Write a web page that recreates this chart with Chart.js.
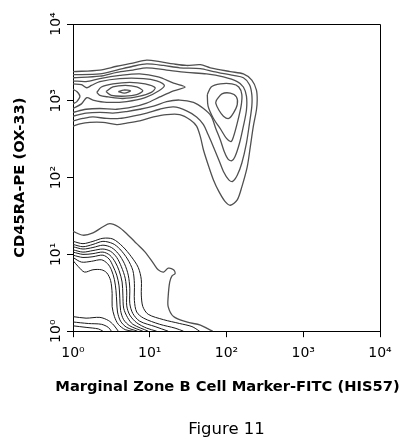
<!DOCTYPE html>
<html>
<head>
<meta charset="utf-8">
<title>Figure 11</title>
<script src="https://cdn.jsdelivr.net/npm/chart.js@4.4.1/dist/chart.umd.min.js"></script>
<style>
  html, body { margin: 0; padding: 0; background: #fff; }
</style>
</head>
<body>
<canvas id="chart" width="405" height="445"></canvas>
<script>
// ===============================
// Data (log10 decades on both axes)
// ===============================

const tickLabels = ["10⁰", "10¹", "10²", "10³", "10⁴"];
const xTitle = "Marginal Zone B Cell Marker-FITC (HIS57)";
const yTitle = "CD45RA-PE (OX-33)";

// upper population: contours running from the left edge round both peaks
const upperA = [[0,3.38],[0.35,3.40],[0.57,3.45],[0.78,3.49],[0.96,3.53],[1.13,3.51],[1.31,3.48],[1.48,3.46],[1.66,3.47],[1.79,3.43],[2.05,3.38],[2.22,3.35],[2.33,3.27],[2.39,3.14],[2.40,3.01],[2.39,2.88],[2.35,2.67],[2.31,2.40],[2.27,2.14],[2.20,1.88],[2.14,1.71],[2.05,1.64],[1.98,1.69],[1.90,1.82],[1.83,1.97],[1.77,2.14],[1.70,2.36],[1.66,2.53],[1.61,2.67],[1.53,2.75],[1.39,2.82],[1.22,2.82],[1.05,2.79],[0.87,2.74],[0.70,2.71],[0.57,2.69],[0.39,2.72],[0.22,2.72],[0.09,2.70],[0,2.67]];
const upperB = [[0,3.34],[0.35,3.35],[0.57,3.40],[0.78,3.45],[0.96,3.48],[1.18,3.46],[1.39,3.43],[1.66,3.42],[1.83,3.38],[2.09,3.33],[2.22,3.30],[2.30,3.21],[2.33,3.08],[2.33,2.93],[2.30,2.71],[2.26,2.45],[2.20,2.19],[2.14,2.03],[2.08,1.95],[2.03,1.97],[1.96,2.08],[1.90,2.23],[1.83,2.40],[1.76,2.56],[1.70,2.69],[1.61,2.79],[1.48,2.87],[1.31,2.92],[1.13,2.89],[0.96,2.84],[0.78,2.80],[0.61,2.77],[0.44,2.77],[0.26,2.79],[0.13,2.77],[0,2.74]];
const upperC = [[0,3.30],[0.35,3.32],[0.57,3.37],[0.78,3.40],[0.96,3.43],[1.22,3.40],[1.48,3.37],[1.74,3.35],[1.96,3.31],[2.14,3.25],[2.22,3.18],[2.26,3.06],[2.26,2.88],[2.22,2.67],[2.17,2.45],[2.11,2.27],[2.07,2.22],[2.02,2.24],[1.97,2.34],[1.92,2.49],[1.86,2.64],[1.80,2.80],[1.70,2.90],[1.57,2.98],[1.39,3.01],[1.22,2.99],[1.05,2.93],[0.87,2.89],[0.70,2.86],[0.52,2.84],[0.35,2.85],[0.17,2.84],[0,2.80]];
const upperD = [[0,3.26],[0.17,3.25],[0.35,3.29],[0.61,3.33],[0.87,3.35],[1.11,3.31],[1.31,3.23],[1.46,3.18],[1.31,3.13],[1.13,3.05],[0.96,2.97],[0.78,2.92],[0.57,2.89],[0.35,2.90],[0.17,2.89],[0,2.85]];
const upperE = [[0,3.22],[0.11,3.21],[0.18,3.17],[0.24,3.20],[0.35,3.25],[0.61,3.29],[0.92,3.29],[1.09,3.26],[1.19,3.20],[1.12,3.13],[0.94,3.04],[0.70,2.99],[0.44,2.98],[0.26,3.01],[0.18,3.04],[0.11,2.96],[0,2.90]];
const edgeBump = [[0,3.15],[0.05,3.12],[0.09,3.06],[0.05,2.99],[0,2.96]];

// left peak (about 10^0.7, 10^3.1)
const peakF = [[0.31,3.11],[0.37,3.18],[0.52,3.22],[0.74,3.24],[0.94,3.22],[1.07,3.17],[1.02,3.11],[0.87,3.06],[0.65,3.03],[0.46,3.05],[0.35,3.07],[0.31,3.11]];
const peakG = [[0.43,3.12],[0.52,3.18],[0.68,3.20],[0.83,3.18],[0.91,3.13],[0.83,3.08],[0.68,3.06],[0.50,3.07],[0.43,3.12]];
const peakH = [[0.59,3.12],[0.66,3.14],[0.75,3.13],[0.67,3.10],[0.59,3.12]];

// right lobe (about 10^2, 10^3)
const lobeD = [[1.75,3.08],[1.80,3.18],[1.92,3.22],[2.07,3.22],[2.16,3.18],[2.20,3.08],[2.19,2.93],[2.14,2.71],[2.09,2.53],[2.06,2.47],[2.00,2.51],[1.93,2.62],[1.83,2.77],[1.76,2.93],[1.75,3.08]];
const lobeE = [[1.87,3.01],[1.94,3.09],[2.05,3.10],[2.13,3.05],[2.14,2.95],[2.09,2.84],[2.03,2.77],[1.96,2.80],[1.90,2.88],[1.86,2.97],[1.87,3.01]];

// lower population (negative corner)
const lowT1 = [[0,1.30],[0.13,1.25],[0.26,1.28],[0.39,1.36],[0.48,1.40],[0.59,1.36],[0.70,1.27],[0.83,1.14],[0.94,1.03],[1.05,0.88],[1.11,0.80],[1.18,0.77],[1.24,0.82],[1.31,0.80],[1.33,0.75],[1.29,0.72],[1.26,0.64],[1.24,0.45],[1.24,0.32],[1.31,0.19],[1.48,0.12],[1.66,0.08],[1.76,0.03],[1.82,0]];
const lowT2 = [[0,1.17],[0.13,1.14],[0.26,1.17],[0.39,1.21],[0.52,1.20],[0.65,1.10],[0.76,0.97],[0.85,0.83],[0.89,0.67],[0.89,0.47],[0.91,0.32],[0.98,0.22],[1.18,0.15],[1.39,0.10],[1.55,0.06],[1.65,0]];
const lowT3 = [[0,1.13],[0.13,1.10],[0.26,1.13],[0.39,1.17],[0.52,1.14],[0.61,1.07],[0.71,0.94],[0.78,0.79],[0.80,0.62],[0.80,0.40],[0.83,0.25],[0.92,0.17],[1.13,0.09],[1.33,0.04],[1.44,0]];
const lowT4 = [[0,1.10],[0.13,1.07],[0.26,1.09],[0.39,1.12],[0.50,1.09],[0.59,1.01],[0.67,0.88],[0.72,0.73],[0.74,0.56],[0.74,0.36],[0.78,0.23],[0.87,0.13],[1.07,0.06],[1.24,0]];
const lowT5 = [[0,1.06],[0.13,1.03],[0.26,1.05],[0.39,1.07],[0.49,1.04],[0.57,0.96],[0.63,0.84],[0.68,0.69],[0.70,0.51],[0.70,0.33],[0.74,0.21],[0.83,0.11],[0.96,0.04],[1.09,0]];
const lowT6 = [[0,1.03],[0.13,1.00],[0.26,1.01],[0.39,1.03],[0.48,0.99],[0.55,0.90],[0.60,0.79],[0.64,0.64],[0.65,0.47],[0.66,0.30],[0.71,0.18],[0.78,0.09],[0.98,0]];
const lowT7 = [[0,0.99],[0.13,0.96],[0.26,0.97],[0.39,0.99],[0.47,0.94],[0.52,0.85],[0.57,0.73],[0.60,0.59],[0.61,0.43],[0.62,0.27],[0.66,0.15],[0.74,0.07],[0.91,0]];
const lowT8 = [[0,0.96],[0.11,0.90],[0.24,0.91],[0.37,0.93],[0.45,0.88],[0.50,0.80],[0.54,0.67],[0.56,0.53],[0.57,0.38],[0.58,0.25],[0.62,0.13],[0.70,0.05],[0.84,0]];
const lowT9 = [[0,0.92],[0.07,0.84],[0.15,0.77],[0.26,0.80],[0.37,0.80],[0.44,0.76],[0.49,0.66],[0.51,0.49],[0.51,0.32],[0.54,0.19],[0.59,0.09],[0.68,0.02],[0.78,0]];
const lowB1 = [[0,0.19],[0.17,0.17],[0.35,0.18],[0.46,0.14],[0.53,0.08],[0.59,0]];
const lowB2 = [[0,0.12],[0.20,0.10],[0.37,0.09],[0.46,0.05],[0.50,0]];
const lowB3 = [[0,0.07],[0.17,0.05],[0.33,0.03],[0.39,0]];

// ===============================
// Datasets
// ===============================

const grayLine = "#505050";
const darkLine = "#1a1a1a";

const contours = [
    [upperA, grayLine, 1.3], [upperB, grayLine, 1.3], [upperC, grayLine, 1.3],
    [upperD, grayLine, 1.3], [upperE, grayLine, 1.3], [edgeBump, grayLine, 1.3],
    [peakF, grayLine, 1.3], [peakG, grayLine, 1.3], [peakH, grayLine, 1.3],
    [lobeD, grayLine, 1.3], [lobeE, grayLine, 1.3],
    [lowT1, grayLine, 1.3],
    [lowT2, darkLine, 1], [lowT3, darkLine, 1], [lowT4, darkLine, 1],
    [lowT5, darkLine, 1], [lowT6, darkLine, 1], [lowT7, darkLine, 1],
    [lowT8, darkLine, 1], [lowT9, darkLine, 1],
    [lowB1, darkLine, 1], [lowB2, darkLine, 1], [lowB3, darkLine, 1]
];

const datasets = contours.map(([pts, color, width]) => ({
    data: pts.map(p => ({ x: p[0], y: p[1] })),
    showLine: true,
    pointRadius: 0,
    borderColor: color,
    borderWidth: width,
    tension: 0.3,
    fill: false
}));

const fontFamily = "'DejaVu Sans', sans-serif";

// top and right edges of the plot box, plus the x title
// (the title is wider than the plot, so the scale title would squeeze it)
const frame = {
    id: "frame",
    afterDraw(chart) {
        const { ctx, chartArea: a } = chart;
        const l = Math.round(a.left) + 0.5, r = Math.round(a.right) + 0.5;
        const t = Math.round(a.top) + 0.5, b = Math.round(a.bottom) + 0.5;
        ctx.save();
        ctx.strokeStyle = "#000";
        ctx.lineWidth = 1;
        ctx.beginPath();
        ctx.moveTo(l, t);
        ctx.lineTo(r, t);
        ctx.lineTo(r, b);
        ctx.stroke();

        ctx.fillStyle = "#000";
        ctx.font = "bold 14.7px " + fontFamily;
        ctx.textAlign = "center";
        ctx.textBaseline = "alphabetic";
        ctx.fillText(xTitle, (a.left + a.right) / 2 + 1, a.bottom + 60);
        ctx.restore();
    }
};

const axisCommon = {
    type: "linear",
    min: 0,
    max: 4,
    grid: { drawOnChartArea: false, drawTicks: true, tickLength: 6, color: "#000", lineWidth: 1 },
    border: { display: true, color: "#000", width: 1 }
};

new Chart(document.getElementById("chart"), {
    type: "scatter",
    data: { datasets },
    options: {
        responsive: false,
        animation: false,
        devicePixelRatio: 1,
        layout: { padding: { top: 24, right: 25, left: 0, bottom: 0 } },
        plugins: {
            legend: { display: false },
            tooltip: { enabled: false },
            title: {
                display: true,
                text: "Figure 11",
                position: "bottom",
                fullSize: false,
                color: "#000",
                font: { family: fontFamily, size: 16.5, weight: "normal" },
                padding: { top: 0, bottom: 5 }
            }
        },
        scales: {
            x: {
                ...axisCommon,
                position: "bottom",
                ticks: {
                    stepSize: 1,
                    autoSkip: false,
                    maxRotation: 0,
                    padding: 8,
                    color: "#000",
                    font: { family: fontFamily, size: 14 },
                    callback: v => tickLabels[v]
                },
                title: { display: false },
                afterFit: s => { s.height = 89; }
            },
            y: {
                ...axisCommon,
                position: "left",
                ticks: {
                    stepSize: 1,
                    autoSkip: false,
                    minRotation: 90,
                    maxRotation: 90,
                    crossAlign: "center",
                    padding: -1,
                    color: "#000",
                    font: { family: fontFamily, size: 14 },
                    callback: v => tickLabels[v]
                },
                title: {
                    display: true,
                    text: yTitle,
                    color: "#000",
                    font: { family: fontFamily, size: 14.7, weight: "bold" },
                    padding: { top: 11, bottom: 0 }
                },
                afterFit: s => { s.width = 73; }
            }
        }
    },
    plugins: [frame]
});
</script>
</body>
</html>
